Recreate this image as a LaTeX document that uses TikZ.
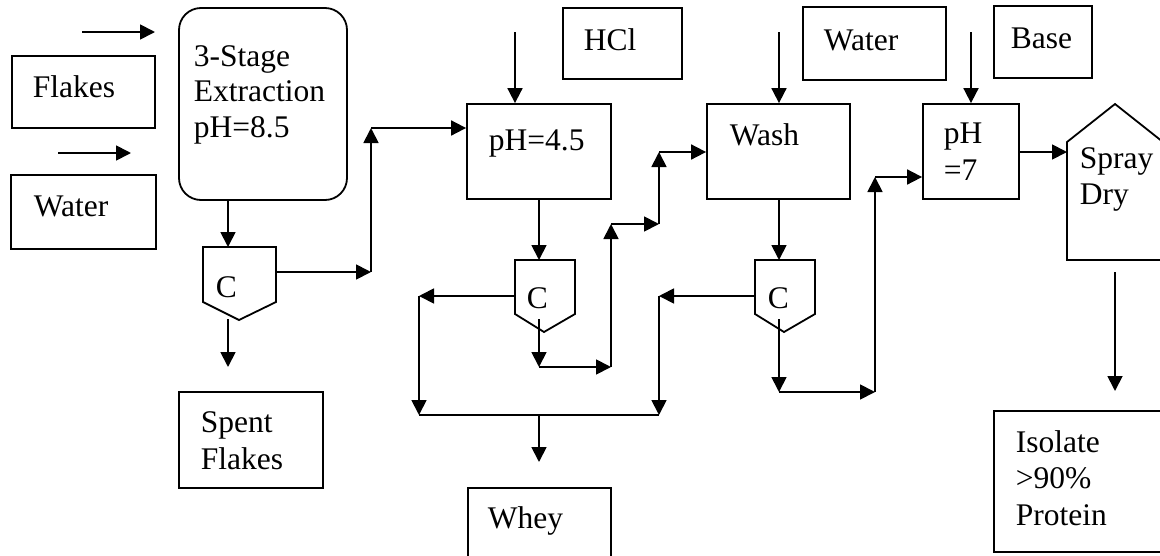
\documentclass[tikz,border=0pt]{standalone}
\usepackage{fontspec}
\setmainfont{Liberation Serif}
\usetikzlibrary{arrows.meta}
\begin{document}
\begin{tikzpicture}[x=1pt,y=-1pt,line width=1.8pt,
  bx/.style={draw,rectangle,inner sep=0pt},
  txt/.style={anchor=base west,inner sep=0pt,font=\fontsize{31.5}{36}\selectfont},
  arr/.style={-{Triangle[length=15pt,width=15pt]}},
  cen/.style={draw,line join=miter}]
\useasboundingbox (0,0) rectangle (1160,555);

% boxes
\node[bx,minimum width=143pt,minimum height=72pt] (flakes) at (83.5,92) {};
\node[bx,minimum width=145pt,minimum height=74pt] (water1) at (83.5,212) {};
\node[bx,rounded corners=22pt,minimum width=168pt,minimum height=192pt] (ext) at (263,104) {};
\node[bx,minimum width=144pt,minimum height=96pt] (spent) at (251,440) {};
\node[bx,minimum width=144pt,minimum height=95pt] (ph45) at (539,151.5) {};
\node[bx,minimum width=119pt,minimum height=71pt] (hcl) at (622.5,43.5) {};
\node[bx,minimum width=143pt,minimum height=95pt] (wash) at (778.5,151.5) {};
\node[bx,minimum width=143pt,minimum height=73pt] (water2) at (874.5,43.5) {};
\node[bx,minimum width=98pt,minimum height=72pt] (base) at (1043,42) {};
\node[bx,minimum width=96pt,minimum height=95pt] (ph7) at (971,151.5) {};
\node[bx,minimum width=143pt,minimum height=74pt] (whey) at (539.5,525) {};
\node[bx,minimum width=176pt,minimum height=141pt] (isolate) at (1082,481.5) {};

% spray dryer
\draw[cen] (1067,260) -- (1067,142) -- (1115,104) -- (1163,142) -- (1163,260) -- cycle;
\coordinate (spL) at (1067,152);
\coordinate (spOut) at (1115,272);
\coordinate (spEnd) at (1115,391);

% centrifuges
\draw[cen] (203,247) -- (276,247) -- (276,302) -- (239,320) -- (203,302) -- cycle;
\draw[cen] (515,260) -- (575,260) -- (575,314) -- (544,332) -- (515,314) -- cycle;
\draw[cen] (755,260) -- (815,260) -- (815,314) -- (784,332) -- (755,314) -- cycle;

% texts
\node[txt] (tflakes) at (32,97) {Flakes};
\node[txt] (twater1) at (33,216) {Water};
\node[txt] (text1) at (193,66) {3-Stage};
\node[txt] (text2) at (193,101) {Extraction};
\node[txt] (text3) at (193,137) {pH=8.5};
\node[txt] (tspent1) at (200,432) {Spent};
\node[txt] (tspent2) at (200,469) {Flakes};
\node[txt] (tc1) at (215,297) {C};
\node[txt] (tc2) at (526,308) {C};
\node[txt] (tc3) at (767,308) {C};
\node[txt] (tph45) at (488,150) {pH=4.5};
\node[txt] (thcl) at (583,50) {HCl};
\node[txt] (twash) at (729,145) {Wash};
\node[txt] (twater2) at (823,50) {Water};
\node[txt] (tbase) at (1010,48) {Base};
\node[txt] (tph7a) at (943,143) {pH};
\node[txt] (tph7b) at (943,180) {=7};
\node[txt] (tspray1) at (1079,168) {Spray};
\node[txt] (tspray2) at (1079,204) {Dry};
\node[txt] (twhey) at (487,528) {Whey};
\node[txt] (tiso1) at (1015,452) {Isolate};
\node[txt] (tiso2) at (1015,488) {>90\%};
\node[txt] (tiso3) at (1015,525) {Protein};

% coordinates
\coordinate (a1s) at (82,32);   \coordinate (a1e) at (155,32);
\coordinate (a2s) at (58,153);  \coordinate (a2e) at (131,153);
\coordinate (c1top) at (228,247);
\coordinate (c1bot) at (228,319); \coordinate (c1end) at (228,367);
\coordinate (c1r) at (276,272);  \coordinate (j1) at (371,272);
\coordinate (j2) at (371,128);
\coordinate (hclS) at (515,32);
\coordinate (c2top) at (539,260);
\coordinate (c2l) at (515,296);  \coordinate (j3) at (419,296);
\coordinate (j4) at (419,415);
\coordinate (c2bot) at (539,319); \coordinate (j5) at (539,367);
\coordinate (j6) at (611,367);   \coordinate (j7) at (611,224);
\coordinate (j8) at (659,224);   \coordinate (j9) at (659,152);
\coordinate (j10) at (659,415);  \coordinate (wj) at (539,415);
\coordinate (wend) at (539,462);
\coordinate (watS) at (779,32);
\coordinate (c3top) at (779,260);
\coordinate (c3l) at (755,296);  \coordinate (j11) at (659,296);
\coordinate (c3bot) at (779,319); \coordinate (j12) at (779,392);
\coordinate (j13) at (875,392);  \coordinate (j14) at (875,177);
\coordinate (baseS) at (971,32);

% connectors
\draw[arr] (a1s) -- (a1e);
\draw[arr] (a2s) -- (a2e);
\draw[arr] (ext.south -| c1top) -- (c1top);
\draw[arr] (c1bot) -- (c1end);
\draw[arr] (c1r) -- (j1);
\draw[arr] (j1) -- (j2);
\draw[arr] (j2) -- (j2 -| ph45.west);
\draw[arr] (hclS) -- (hclS |- ph45.north);
\draw[arr] (ph45.south |- ph45.south) -- (c2top);
\draw[arr] (c2l) -- (j3);
\draw[arr] (j3) -- (j4);
\draw[arr] (c2bot) -- (j5);
\draw[arr] (j5) -- (j6);
\draw[arr] (j6) -- (j7);
\draw[arr] (j7) -- (j8);
\draw[arr] (j8) -- (j9);
\draw[arr] (j9) -- (j9 -| wash.west);
\draw (j4) -- (j10);
\draw[arr] (wj) -- (wend);
\draw[arr] (watS) -- (watS |- wash.north);
\draw[arr] (wash.south -| c3top) -- (c3top);
\draw[arr] (c3l) -- (j11);
\draw[arr] (j11) -- (j10);
\draw[arr] (c3bot) -- (j12);
\draw[arr] (j12) -- (j13);
\draw[arr] (j13) -- (j14);
\draw[arr] (j14) -- (j14 -| ph7.west);
\draw[arr] (baseS) -- (baseS |- ph7.north);
\draw[arr] (ph7.east |- spL) -- (spL);
\draw[arr] (spOut) -- (spEnd);
\end{tikzpicture}
\end{document}
